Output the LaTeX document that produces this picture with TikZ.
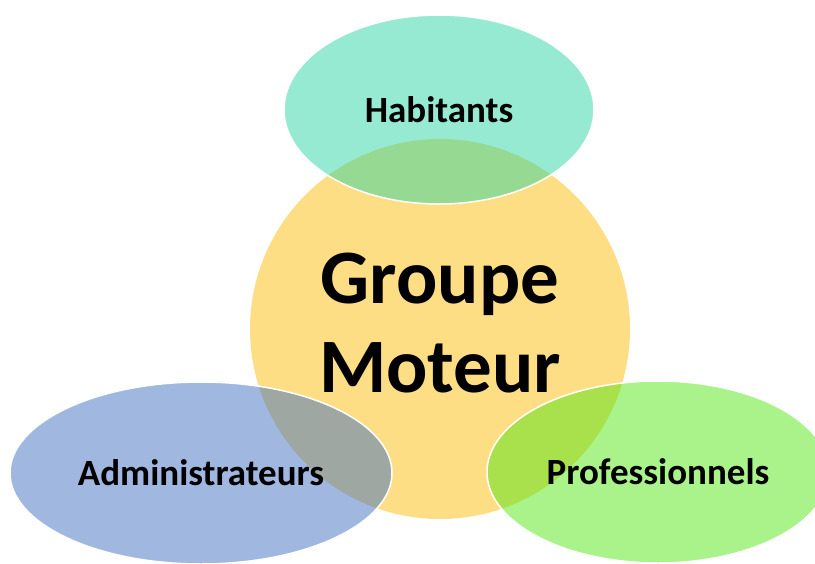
\documentclass[tikz,border=0pt]{standalone}
\usepackage{fontspec}
\setmainfont{Carlito}
\usetikzlibrary{shapes.geometric}
\definecolor{coreyellow}{RGB}{254,222,132}
\definecolor{habcol}{RGB}{45,213,163}
\definecolor{admcol}{RGB}{65,113,193}
\definecolor{procol}{RGB}{85,229,21}
\tikzset{
  blob/.style={ellipse, inner sep=0pt, draw=white, line width=1.5pt,
    fill opacity=0.5, text opacity=1, font=\fontsize{37}{44}\selectfont\bfseries},
  corecircle/.style={circle, inner sep=0pt, fill=coreyellow, draw=none, minimum size=380pt},
  corelabel/.style={inner sep=0pt, align=center, font=\fontsize{77}{89}\selectfont\bfseries}
}
\begin{document}
\begin{tikzpicture}[x=1pt,y=-1pt]
\useasboundingbox (0,0) rectangle (815,563);
\node[corecircle] (core) at (440,329) {};
\node[blob, fill=habcol, minimum width=310pt, minimum height=189pt] (hab) at (439,109.5) {Habitants};
\node[blob, fill=admcol, minimum width=382pt, minimum height=182pt] (adm) at (201,473) {Administrateurs};
\node[blob, fill=procol, minimum width=342pt, minimum height=182pt] (pro) at (658,472) {Professionnels};
\node[corelabel, anchor=north] (corelbl) at (440,253) {Groupe\\Moteur};
\end{tikzpicture}
\end{document}
